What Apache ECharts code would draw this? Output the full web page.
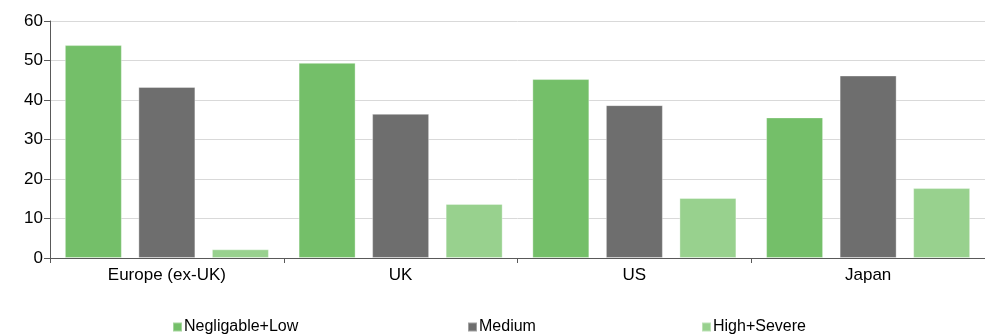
<!DOCTYPE html>
<html>
<head>
<meta charset="utf-8">
<script src="https://cdn.jsdelivr.net/npm/echarts@6/dist/echarts.min.js"></script>
<style>
html,body{margin:0;padding:0;background:#fff;}
#c{width:985px;height:334px;}
</style>
</head>
<body>
<div id="c"></div>
<script>
const categories = ['Europe (ex-UK)', 'UK', 'US', 'Japan'];
const seriesNames = ['Negligable+Low', 'Medium', 'High+Severe'];
const negligableLow = [53.9, 49.4, 45.3, 35.6];
const medium = [43.3, 36.5, 38.7, 46.2];
const highSevere = [2.2, 13.7, 15.2, 17.7];
const yTicks = [0, 10, 20, 30, 40, 50, 60];

const FONT = "'Liberation Sans', Arial, sans-serif";
const colors = ['#74BF69', '#6E6E6E', '#98D18E'];
const chart = echarts.init(document.getElementById('c'));
const mkLegend = (name, left) => ({
  data: [name], left: left, top: 314, icon: 'rect', itemWidth: 9, itemHeight: 9, itemGap: 0,
  textStyle: {fontFamily: FONT, fontSize: 16, color: '#000', padding: [0,0,0,-3]}
});
chart.setOption({
  animation: false,
  color: colors,
  grid: {left: 50, right: 0, top: 21, bottom: 76},
  legend: [mkLegend(seriesNames[0], 167), mkLegend(seriesNames[1], 462), mkLegend(seriesNames[2], 696)],
  xAxis: {
    type: 'category', data: categories,
    axisLine: {lineStyle: {color: '#595959', width: 1}},
    axisTick: {show: true, length: 5, lineStyle: {color: '#595959'}},
    axisLabel: {fontFamily: FONT, fontSize: 17, color: '#000', margin: 9}
  },
  yAxis: {
    type: 'value', min: yTicks[0], max: yTicks[yTicks.length-1], interval: 10,
    axisLine: {show: true, lineStyle: {color: '#595959', width: 1}},
    axisTick: {show: true, length: 6, lineStyle: {color: '#595959'}},
    axisLabel: {fontFamily: FONT, fontSize: 17, color: '#000', margin: 7},
    splitLine: {lineStyle: {color: '#D9D9D9', width: 1}}
  },
  series: [negligableLow, medium, highSevere].map((d, i) => ({
    name: seriesNames[i], type: 'bar', data: d, barWidth: 57, barGap: '29%',
    itemStyle: {borderColor: 'rgba(255,255,255,0.35)', borderWidth: 1}
  }))
});
</script>
</body>
</html>
